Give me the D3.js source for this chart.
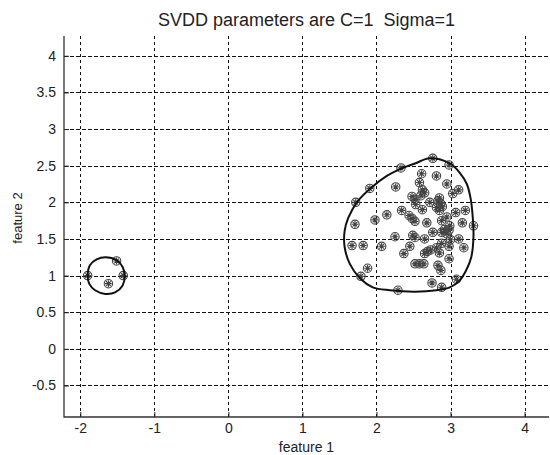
<!DOCTYPE html>
<html>
<head>
<meta charset="utf-8">
<script src="https://cdn.jsdelivr.net/npm/d3@7/dist/d3.min.js"></script>
<style>
  html, body { margin: 0; padding: 0; background: #fff; }
  svg { display: block; font-family: "Liberation Sans", Arial, sans-serif; }
</style>
</head>
<body>
<svg id="chart" width="550" height="455"></svg>
<script>
// Tick values for both axes
const xTicks = [-2, -1, 0, 1, 2, 3, 4];
const yTicks = [-0.5, 0, 0.5, 1, 1.5, 2, 2.5, 3, 3.5, 4];

// Small target cluster (feature 1, feature 2)
const smallX = [-1.90, -1.42, -1.51, -1.62];
const smallY = [1.00, 1.00, 1.20, 0.89];

// Large target cluster (feature 1, feature 2)
const bigX = [2.33, 2.76, 2.98, 1.91, 1.72, 2.26, 2.61, 2.81, 2.58, 2.95,
              2.62, 2.65, 2.60, 3.11, 3.03, 2.48, 2.52, 2.53, 2.72, 2.83,
              2.87, 2.89, 2.81, 2.85, 2.62, 3.20, 3.07, 2.34, 2.44, 2.48,
              2.52, 2.14, 1.98, 2.68, 2.95, 2.88, 3.16, 2.99, 2.92, 2.95,
              2.88, 3.31, 1.71, 2.25, 2.49, 2.65, 2.76, 3.00, 3.11, 1.67,
              1.82, 2.07, 2.45, 2.81, 2.98, 3.18, 2.37, 2.69, 2.65, 2.73,
              2.85, 2.98, 2.52, 2.58, 2.64, 2.83, 2.87, 1.88, 1.79, 2.75,
              3.08, 2.88, 2.29, 2.85, 2.52, 2.88, 2.98];
const bigY = [2.47, 2.60, 2.51, 2.19, 2.00, 2.21, 2.39, 2.36, 2.27, 2.25,
              2.17, 2.13, 2.09, 2.17, 2.12, 2.08, 2.04, 1.97, 2.00, 2.02,
              1.98, 1.94, 1.93, 1.89, 1.90, 1.89, 1.86, 1.89, 1.82, 1.78,
              1.74, 1.83, 1.76, 1.72, 1.80, 1.75, 1.72, 1.68, 1.63, 1.57,
              1.59, 1.68, 1.70, 1.53, 1.55, 1.50, 1.59, 1.49, 1.50, 1.41,
              1.41, 1.40, 1.40, 1.38, 1.40, 1.38, 1.30, 1.33, 1.30, 1.35,
              1.31, 1.23, 1.16, 1.16, 1.16, 1.14, 1.07, 1.10, 0.99, 0.90,
              0.95, 0.84, 0.80, 2.06, 1.52, 1.44, 1.62];

// SVDD decision boundary around the small cluster
const smallBoundX = [-1.66, -1.51, -1.43, -1.40, -1.43, -1.53, -1.66, -1.80, -1.88, -1.90, -1.87, -1.78];
const smallBoundY = [1.25, 1.21, 1.12, 1.00, 0.86, 0.77, 0.75, 0.80, 0.89, 1.00, 1.14, 1.22];

// SVDD decision boundary around the large cluster
const bigBoundX = [2.72, 2.99, 3.12, 3.22, 3.27, 3.30, 3.31, 3.28, 3.21, 3.12,
                   2.99, 2.81, 2.52, 2.18, 1.95, 1.78, 1.64, 1.57, 1.57, 1.62,
                   1.75, 1.93, 2.14, 2.31, 2.52];
const bigBoundY = [2.60, 2.53, 2.41, 2.25, 2.06, 1.80, 1.53, 1.25, 1.07, 0.93,
                   0.84, 0.80, 0.78, 0.80, 0.84, 0.96, 1.16, 1.39, 1.61, 1.79,
                   2.02, 2.20, 2.36, 2.45, 2.53];

const svg = d3.select("#chart");
const plotL = 64, plotR = 549, plotT = 36, plotB = 417;

const x = d3.scaleLinear().domain([-2.22, 4.33]).range([plotL, plotR]);
const y = d3.scaleLinear().domain([-0.93, 4.27]).range([plotB, plotT]);

const ink = "#222";

// Dashed grid
const grid = svg.append("g").attr("stroke", "#111").attr("stroke-width", 1)
  .attr("stroke-dasharray", "3.5,2.5").attr("shape-rendering", "crispEdges");
grid.selectAll("line.v").data(xTicks).join("line").attr("class", "v")
  .attr("x1", d => Math.round(x(d)) + 0.5).attr("x2", d => Math.round(x(d)) + 0.5)
  .attr("y1", plotB).attr("y2", plotT);
grid.selectAll("line.h").data(yTicks).join("line").attr("class", "h")
  .attr("y1", d => Math.round(y(d)) + 0.5).attr("y2", d => Math.round(y(d)) + 0.5)
  .attr("x1", plotL).attr("x2", plotR);

// Axes with inward ticks; plain hyphen for negative labels
const xAxis = d3.axisBottom(x).tickValues(xTicks).tickSize(-5).tickPadding(6)
  .tickFormat(d => String(d));
const yAxis = d3.axisLeft(y).tickValues(yTicks).tickSize(-5).tickPadding(8)
  .tickFormat(d => String(d));

const gx = svg.append("g").attr("transform", `translate(0,${plotB})`).call(xAxis);
const gy = svg.append("g").attr("transform", `translate(${plotL},0)`).call(yAxis);
[gx, gy].forEach(g => {
  g.select(".domain").remove();
  g.selectAll(".tick line").attr("stroke", ink).attr("stroke-width", 1);
  g.selectAll(".tick text").attr("fill", ink).attr("font-size", 14)
    .attr("font-family", "Liberation Sans, Arial, sans-serif");
});

svg.append("path")
  .attr("d", `M${plotL},${plotT}V${plotB}H${plotR}`)
  .attr("fill", "none").attr("stroke", "#333").attr("stroke-width", 1.3);

// Data markers: circle with asterisk
function drawMarkers(xs, ys) {
  const pts = xs.map((v, i) => [v, ys[i]]);
  const g = svg.append("g").attr("stroke", "#444").attr("fill", "none").attr("stroke-width", 1.1);
  const m = g.selectAll("g").data(pts).join("g")
    .attr("transform", d => `translate(${x(d[0])},${y(d[1])})`);
  m.append("circle").attr("r", 4.2);
  const r = 3.4, k = r * Math.SQRT1_2;
  m.append("path").attr("d",
    `M${-r},0H${r}M0,${-r}V${r}M${-k},${-k}L${k},${k}M${-k},${k}L${k},${-k}`);
}
drawMarkers(smallX, smallY);
drawMarkers(bigX, bigY);

// Decision boundaries
const boundary = d3.line().x(d => x(d[0])).y(d => y(d[1])).curve(d3.curveCatmullRomClosed.alpha(0.5));
[[smallBoundX, smallBoundY], [bigBoundX, bigBoundY]].forEach(([bx, by]) => {
  svg.append("path")
    .attr("d", boundary(bx.map((v, i) => [v, by[i]])))
    .attr("fill", "none").attr("stroke", "#111").attr("stroke-width", 2);
});

// Titles
svg.append("text").attr("x", (plotL + plotR) / 2).attr("y", 26)
  .attr("text-anchor", "middle").attr("font-size", 18).attr("fill", ink)
  .style("white-space", "pre")
  .text("SVDD parameters are C=1  Sigma=1");
svg.append("text").attr("x", (plotL + plotR) / 2).attr("y", 452)
  .attr("text-anchor", "middle").attr("font-size", 14).attr("fill", ink)
  .text("feature 1");
svg.append("text").attr("transform", "translate(22,218) rotate(-90)")
  .attr("text-anchor", "middle").attr("font-size", 13).attr("fill", ink)
  .text("feature 2");
</script>
</body>
</html>
